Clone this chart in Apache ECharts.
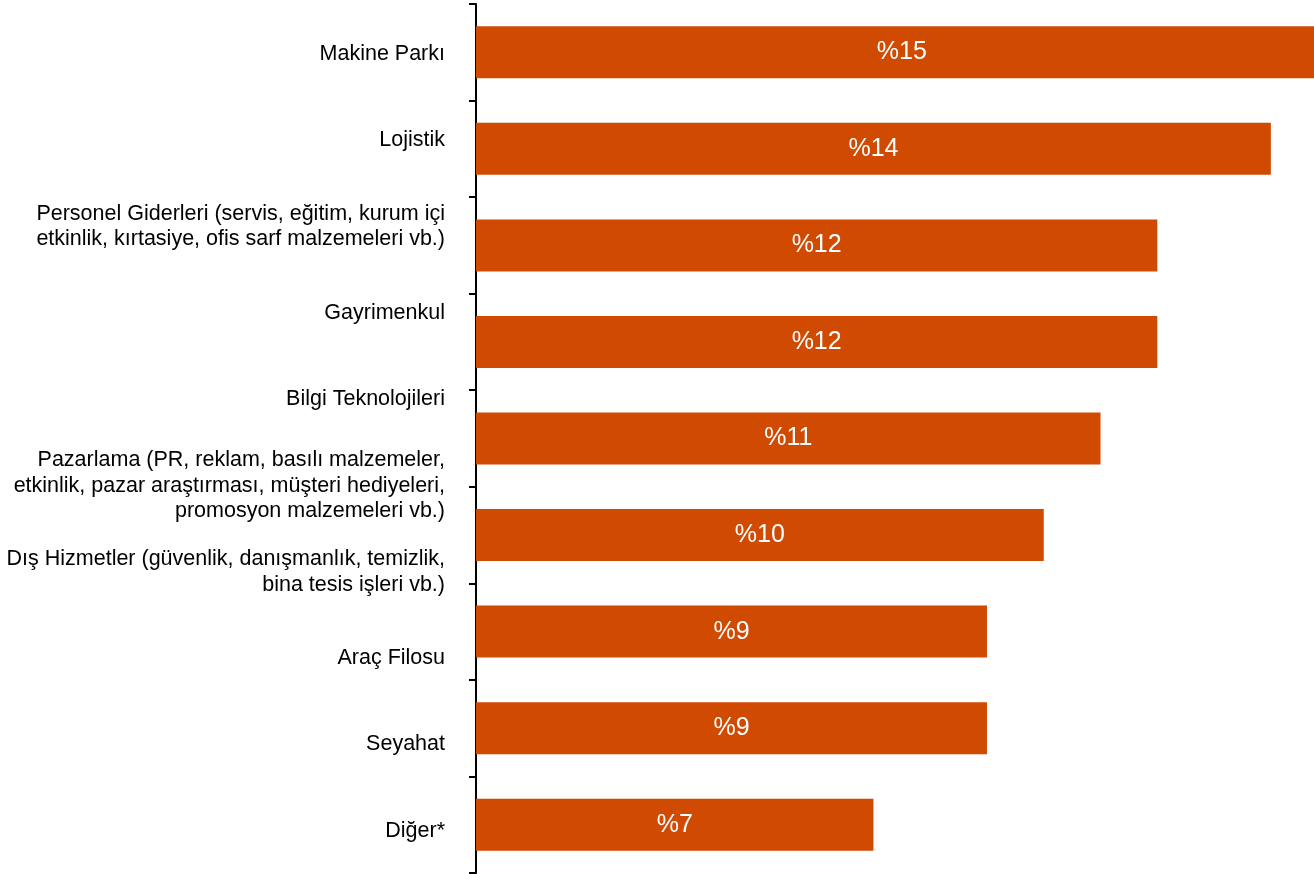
<!DOCTYPE html>
<html>
<head>
<meta charset="utf-8">
<script src="https://cdn.jsdelivr.net/npm/echarts@6/dist/echarts.min.js"></script>
<style>
  html, body { margin: 0; padding: 0; background: #fff; }
  #chart { width: 1314px; height: 874px; }
</style>
</head>
<body>
<div id="chart"></div>
<script>
// kategoriler (yukaridan asagiya)
const categories = [
  'Makine Parkı',
  'Lojistik',
  'Personel Giderleri (servis, eğitim, kurum içi\netkinlik, kırtasiye, ofis sarf malzemeleri vb.)',
  'Gayrimenkul',
  'Bilgi Teknolojileri',
  'Pazarlama (PR, reklam, basılı malzemeler,\netkinlik, pazar araştırması, müşteri hediyeleri,\npromosyon malzemeleri vb.)',
  'Dış Hizmetler (güvenlik, danışmanlık, temizlik,\nbina tesis işleri vb.)',
  'Araç Filosu',
  'Seyahat',
  'Diğer*'
];
const values = [15, 14, 12, 12, 11, 10, 9, 9, 7];
const valueLabels = ['%15', '%14', '%12', '%12', '%11', '%10', '%9', '%9', '%7'];

// cubuklar 9 tane, etiketler 10 tane (ayri eksende)
const barCategories = values.map((v, i) => 'c' + i);

const chart = echarts.init(document.getElementById('chart'));

const option = {
  animation: false,
  textStyle: { fontFamily: 'Liberation Sans, Arial, sans-serif' },
  grid: [
    { left: 476, right: 0, top: 4, bottom: 1 },
    { left: 476, right: 0, top: 11, height: 869 }
  ],
  xAxis: [
    // ilk cubuk sayfanin disina tasiyor
    { gridIndex: 0, type: 'value', min: 0, max: 14.76, show: false },
    { gridIndex: 1, type: 'value', min: 0, max: 1, show: false }
  ],
  yAxis: [
    {
      gridIndex: 0,
      type: 'category',
      inverse: true,
      data: barCategories,
      axisLine: { show: true, lineStyle: { color: '#000', width: 2 } },
      axisTick: { show: true, length: 7, lineStyle: { color: '#000', width: 2 } },
      axisLabel: { show: false },
      splitLine: { show: false }
    },
    {
      gridIndex: 1,
      type: 'category',
      inverse: true,
      data: categories,
      axisLine: { show: false },
      axisTick: { show: false },
      axisLabel: {
        margin: 31,
        color: '#000',
        fontSize: 21.5,
        lineHeight: 25.5,
        align: 'right'
      }
    }
  ],
  series: [
    {
      type: 'bar',
      xAxisIndex: 0,
      yAxisIndex: 0,
      data: values,
      barWidth: 52,
      clip: false,
      itemStyle: { color: '#D04A02' },
      label: {
        show: true,
        position: 'inside',
        color: '#fff',
        fontSize: 25,
        formatter: p => valueLabels[p.dataIndex]
      }
    }
  ]
};

chart.setOption(option);
window.addEventListener('resize', () => chart.resize());
</script>
</body>
</html>
